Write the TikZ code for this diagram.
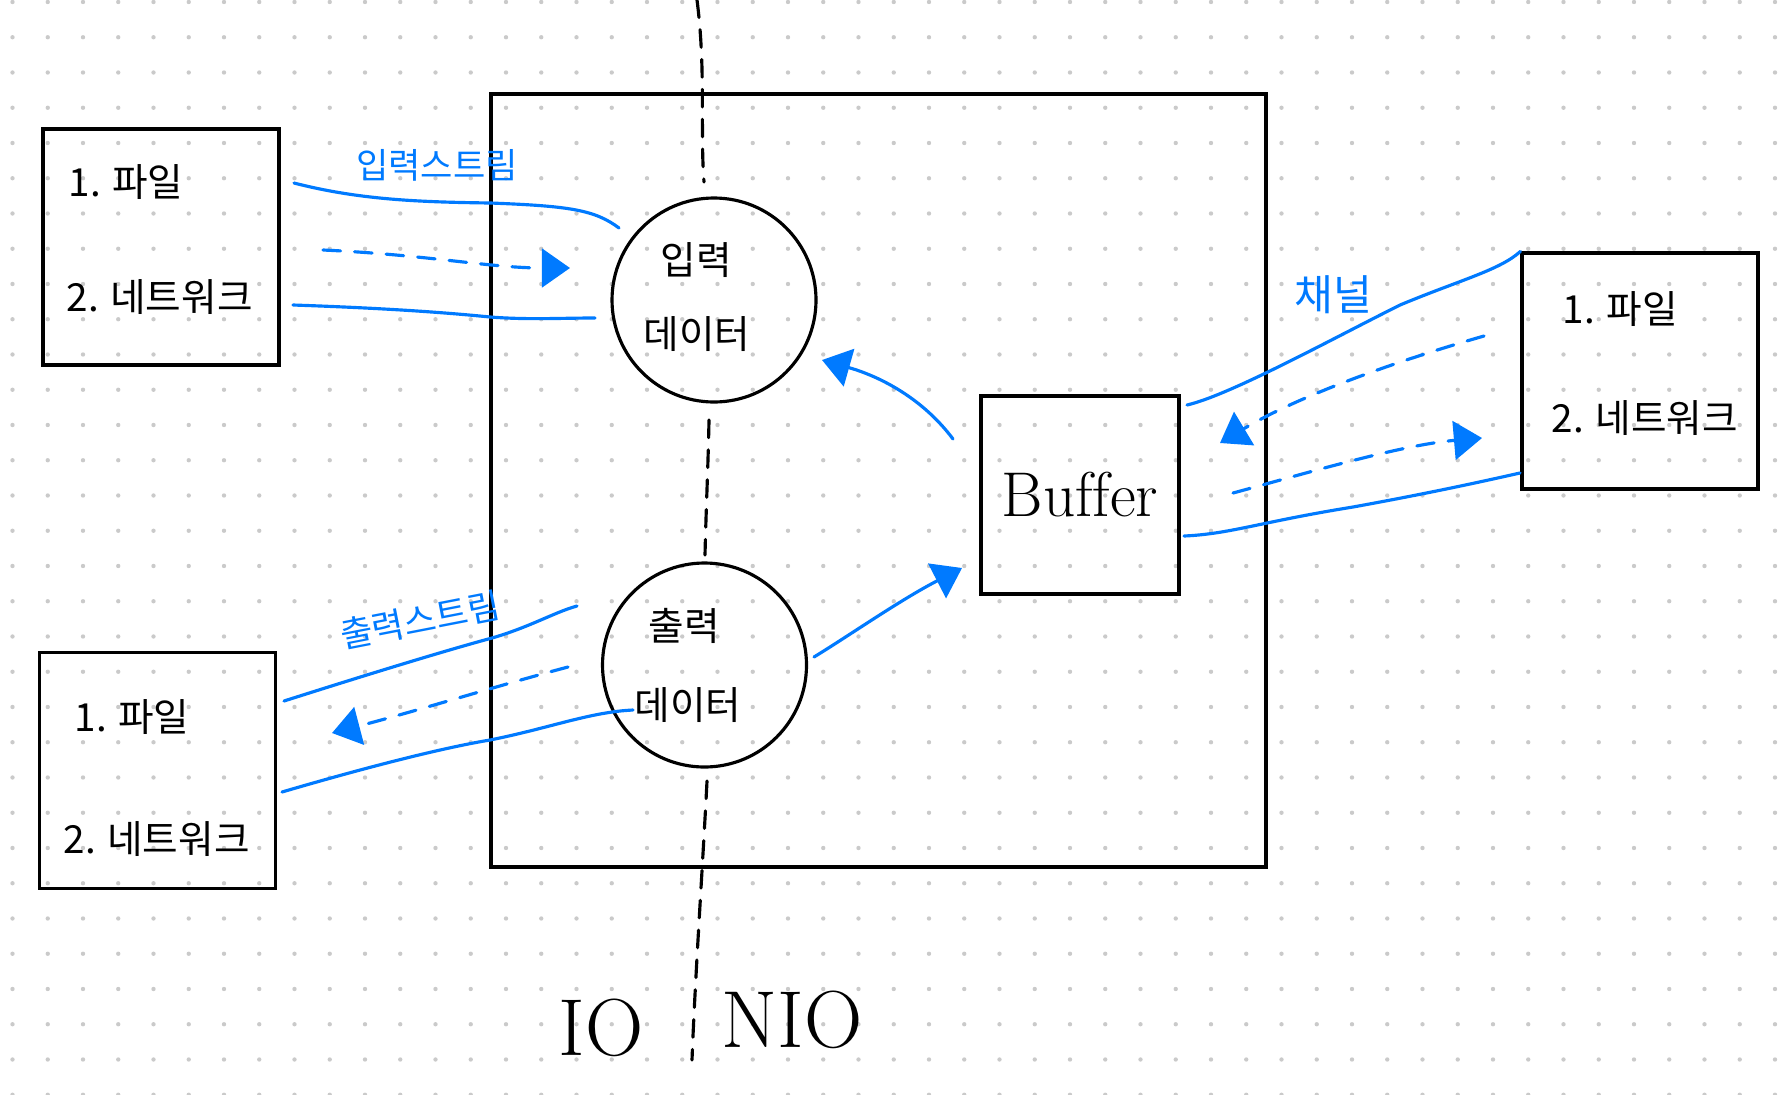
\documentclass[tikz,border=0pt]{standalone}
\usepackage{fontspec}
\newfontfamily\krfont{Noto Sans CJK KR}
\usetikzlibrary{positioning, arrows.meta, calc}
\definecolor{penblue}{HTML}{007AFF}
\definecolor{dotgray}{HTML}{CACACA}

\begin{document}
\begin{tikzpicture}[
    box/.style={rectangle, draw, line width=0.9pt, minimum width=2.36cm, minimum height=2.36cm},
    blob/.style={circle, draw, line width=0.9pt, minimum size=2.04cm, inner sep=0pt},
    txt/.style={font=\krfont\fontsize{11}{13}\selectfont, anchor=west, inner sep=0pt},
    ctxt/.style={font=\krfont\fontsize{11}{13}\selectfont, inner sep=0pt},
    blbl/.style={font=\krfont\fontsize{10}{12}\selectfont, text=penblue, inner sep=0pt},
    big/.style={font=\fontsize{23}{26}\selectfont, inner sep=0pt},
    pen/.style={draw=penblue, line width=0.9pt, line cap=round},
    penarr/.style={pen, -{Triangle[length=8pt, width=11pt]}},
    dsh/.style={dash pattern=on 5pt off 4pt},
    divider/.style={line width=0.9pt, line cap=round, dash pattern=on 5pt off 3.5pt},
  ]
    \useasboundingbox (0,0) rectangle (17.88,-10.94);

    % Dot grid
    \foreach \i in {0,...,50}
      \foreach \j in {0,...,31}
        \fill[dotgray] ({0.125+0.3525*\i},{-0.02-0.3525*\j}) circle (0.022);

    % NIO frame
    \node[rectangle, draw, line width=0.9pt, minimum width=7.75cm, minimum height=7.73cm] (core) at (8.785,-4.805) {};

    % Sources and sinks
    \node[box] (srcin) at (1.61,-2.47) {};
    \node[box] (srcout) at (1.575,-7.705) {};
    \node[box] (srcch) at (16.40,-3.71) {};
    \node[txt] (srcin1) at (0.68,-1.82) {1. 파일};
    \node[txt] (srcin2) at (0.66,-2.97) {2. 네트워크};
    \node[txt] (srcout1) at (0.74,-7.17) {1. 파일};
    \node[txt] (srcout2) at (0.63,-8.39) {2. 네트워크};
    \node[txt] (srcch1) at (15.62,-3.09) {1. 파일};
    \node[txt] (srcch2) at (15.51,-4.18) {2. 네트워크};

    % Data circles and buffer
    \node[blob] (inc) at (7.14,-3.00) {};
    \node[ctxt] (inc1) at (6.96,-2.60) {입력};
    \node[ctxt] (inc2) at (6.97,-3.34) {데이터};
    \node[blob] (outc) at (7.045,-6.65) {};
    \node[ctxt] (outc1) at (6.84,-6.26) {출력};
    \node[ctxt] (outc2) at (6.88,-7.05) {데이터};
    \node[rectangle, draw, line width=0.9pt, minimum size=1.98cm, font=\fontsize{18}{20}\selectfont] (buf) at (10.80,-4.95) {Buf\kern0pt fer};

    % IO / NIO divider
    \draw[divider] (6.97,0) .. controls (7.06,-0.7) and (7.0,-1.3) .. (7.04,-1.82);
    \draw[divider] (7.09,-4.20) .. controls (7.08,-4.7) and (7.06,-5.1) .. (7.05,-5.55);
    \draw[divider] (7.07,-7.81) .. controls (7.03,-8.6) and (6.95,-9.8) .. (6.92,-10.60);
    \node[big] (io) at (6.01,-10.28) {IO};
    \node[big] (nio) at (7.92,-10.20) {NIO};

    % Blue labels
    \node[blbl] (lblin) at (4.37,-1.65) {입력스트림};
    \node[blbl, rotate=11] (lblout) at (4.20,-6.20) {출력스트림};
    \node[blbl, font=\krfont\fontsize{12}{14}\selectfont] (lblch) at (13.33,-2.95) {채널};

    % Input stream
    \coordinate (isA) at (2.94,-1.83);
    \coordinate (isB) at (6.19,-2.28);
    \coordinate (isC) at (3.23,-2.50);
    \coordinate (isD) at (5.70,-2.68);
    \coordinate (isE) at (2.93,-3.05);
    \coordinate (isF) at (5.95,-3.18);
    \draw[pen] (isA) .. controls (3.6,-2.0) and (4.2,-2.02) .. (4.90,-2.03) .. controls (5.7,-2.06) and (5.95,-2.1) .. (isB);
    \draw[penarr, dsh] (isC) .. controls (4.3,-2.55) and (4.9,-2.68) .. (isD);
    \draw[pen] (isE) .. controls (3.8,-3.08) and (4.4,-3.12) .. (4.90,-3.17) .. controls (5.3,-3.2) and (5.6,-3.18) .. (isF);

    % Output stream
    \coordinate (osA) at (2.84,-7.01);
    \coordinate (osB) at (5.77,-6.06);
    \coordinate (osC) at (5.68,-6.67);
    \coordinate (osD) at (3.32,-7.33);
    \coordinate (osE) at (2.82,-7.92);
    \coordinate (osF) at (6.33,-7.10);
    \draw[pen] (osA) .. controls (3.5,-6.8) and (4.4,-6.52) .. (4.92,-6.38) .. controls (5.3,-6.27) and (5.55,-6.12) .. (osB);
    \draw[penarr, dsh] (osC) .. controls (5.0,-6.85) and (4.2,-7.1) .. (osD);
    \draw[pen] (osE) .. controls (3.4,-7.75) and (4.3,-7.5) .. (4.90,-7.40) .. controls (5.5,-7.28) and (5.9,-7.12) .. (osF);

    % Buffer <-> data
    \coordinate (bufIn) at (9.53,-4.39);
    \coordinate (incTip) at (8.22,-3.60);
    \coordinate (outcOut) at (8.14,-6.57);
    \coordinate (bufTip) at (9.62,-5.68);
    \draw[penarr] (bufIn) .. controls (9.2,-3.95) and (8.75,-3.75) .. (incTip);
    \draw[penarr] (outcOut) .. controls (8.5,-6.35) and (9.0,-6.0) .. (bufTip);

    % Channel
    \coordinate (chA) at (11.87,-4.05);
    \coordinate (chB) at (11.84,-5.36);
    \coordinate (chC) at (15.20,-4.73);
    \coordinate (chD) at (14.84,-3.36);
    \coordinate (chE) at (12.20,-4.43);
    \coordinate (chF) at (12.33,-4.93);
    \coordinate (chG) at (14.82,-4.38);
    \draw[pen] (chA) .. controls (12.3,-3.95) and (13.3,-3.4) .. (14.0,-3.05) .. controls (14.6,-2.8) and (15.0,-2.7) .. (srcch.north west);
    \draw[pen] (chB) .. controls (12.3,-5.34) and (12.6,-5.22) .. (13.53,-5.07) .. controls (14.3,-4.93) and (14.8,-4.82) .. (chC);
    \draw[penarr, dsh] (chD) .. controls (14.0,-3.6) and (13.0,-3.95) .. (chE);
    \draw[penarr, dsh] (chF) .. controls (13.0,-4.75) and (14.0,-4.45) .. (chG);
  \end{tikzpicture}
\end{document}
